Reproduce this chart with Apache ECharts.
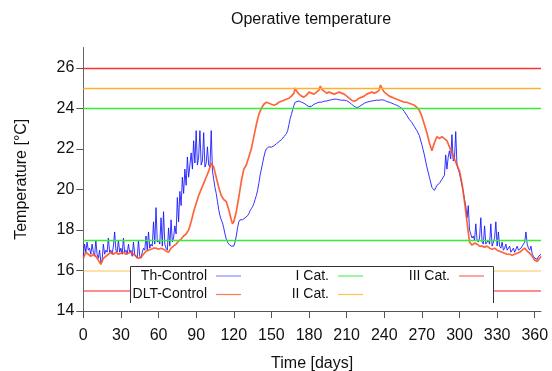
<!DOCTYPE html>
<html>
<head>
<meta charset="utf-8">
<script src="https://cdn.jsdelivr.net/npm/echarts@6/dist/echarts.min.js"></script>
<style>
html,body{margin:0;padding:0;background:#fff;overflow:hidden;}
#chart{width:552px;height:371px;}
</style>
</head>
<body>
<div id="chart"></div>
<script>
// ---- data ----
const titleText = 'Operative temperature';
const xName = 'Time [days]';
const yName = 'Temperature [°C]';
const xTicks = [0,30,60,90,120,150,180,210,240,270,300,330,360];
const yTicks = [14,16,18,20,22,24,26];

// [day, temperature] Th-Control
const thControl = [
[0,16.7],[1,17.3],[2,16.9],[3,17.4],[4,17.0],[5,17.1],[6,16.8],[7,17.3],[8,16.9],[9,16.7],
[10,17.5],[11,16.8],[12,16.6],[13,17.0],[14,16.4],[15,16.5],[16,17.3],[17,16.8],[18,17.0],[19,16.9],
[20,17.6],[21,16.9],[22,17.0],[23,16.8],[24,17.2],[25,17.9],[26,17.0],[27,16.9],[28,17.5],[29,16.9],
[30,17.1],[31,16.8],[32,17.6],[33,16.9],[34,17.0],[35,16.8],[36,17.3],[37,16.9],[38,17.0],[39,16.7],
[40,17.4],[41,16.8],[42,16.7],[43,16.6],[44,17.5],[45,16.7],[46,16.6],[47,16.9],[48,17.1],[49,17.0],
[50,17.7],[51,17.0],[52,17.9],[53,17.1],[54,17.3],[55,17.2],[56,18.4],[57,17.3],[58,19.1],[59,17.4],
[60,17.5],[61,17.3],[62,18.6],[63,17.2],[64,18.9],[65,17.3],[66,17.1],[67,17.0],[68,18.1],[69,17.2],
[70,18.5],[71,17.4],[72,17.6],[73,18.2],[74,17.8],[75,19.6],[76,18.4],[77,19.9],[78,19.2],[79,20.6],
[80,19.8],[81,21.0],[82,20.2],[83,21.6],[84,20.6],[85,21.2],[86,21.8],[87,21.0],[88,22.4],[89,21.3],
[90,22.9],[91,21.2],[92,21.6],[93,22.9],[94,21.2],[95,21.4],[96,22.8],[97,21.1],[98,21.3],[99,22.1],
[100,21.2],[101,21.1],[102,22.9],[103,20.9],[104,20.5],[105,20.1],[106,19.8],[107,19.4],[108,19.0],[109,18.7],
[110,18.5],[111,18.35],[112,18.1],[113,17.8],[114,17.55],[115,17.4],[116,17.3],[117,17.25],[118,17.2],[119,17.15],
[120,17.2],[121,17.4],[122,17.7],[123,18.1],[124,18.4],[125,18.5],[126,18.45],[127,18.5],[128,18.55],[129,18.6],
[130,18.65],[131,18.7],[132,18.8],[133,18.95],[134,19.05],[135,19.15],[136,19.3],[137,19.5],[138,19.7],[139,19.95],
[140,20.3],[141,20.7],[142,21.0],[143,21.3],[144,21.6],[145,21.85],[146,22.0],[147,22.05],[148,22.1],[150,22.08],
[152,22.15],[154,22.25],[156,22.35],[158,22.45],[160,22.6],[162,22.75],[163,22.9],[164,23.2],[165,23.5],[166,23.7],
[167,23.95],[168,24.15],[169,24.3],[170,24.35],[172,24.36],[174,24.3],[176,24.25],[178,24.16],[180,24.08],[182,24.1],
[184,24.2],[186,24.25],[188,24.3],[190,24.3],[192,24.35],[194,24.36],[196,24.4],[198,24.42],[200,24.45],[202,24.45],
[204,24.42],[206,24.4],[208,24.4],[210,24.38],[212,24.3],[214,24.2],[216,24.1],[218,24.03],[220,24.08],[222,24.16],
[224,24.25],[226,24.3],[228,24.33],[230,24.36],[232,24.38],[234,24.4],[236,24.4],[238,24.42],[240,24.4],[242,24.33],
[244,24.3],[246,24.25],[248,24.2],[250,24.15],[252,24.08],[254,24.0],[256,23.84],[258,23.65],[260,23.45],[262,23.3],
[264,23.1],[266,22.9],[268,22.65],[270,22.2],[272,21.7],[274,21.1],[276,20.6],[278,20.1],[280,19.95],[282,20.2],
[284,20.3],[286,20.5],[288,20.7],[289,21.7],[290,21.0],[291,21.6],[292,21.9],[293,21.5],[294,22.7],[295,21.4],
[296,21.5],[297,22.85],[298,21.2],[299,21.0],[300,20.8],[301,20.5],[302,20.2],[303,19.9],[304,19.5],[305,19.2],
[306,18.6],[307,19.2],[308,18.0],[309,17.8],[310,17.6],[311,17.7],[312,17.5],[313,18.3],[314,17.5],[315,17.4],
[316,17.6],[317,18.6],[318,17.4],[319,17.3],[320,18.2],[321,17.3],[322,17.3],[323,17.5],[324,17.3],[325,18.3],
[326,17.2],[327,17.2],[328,17.6],[329,18.4],[330,17.2],[331,17.9],[332,17.2],[333,17.1],[334,17.4],[335,17.0],
[336,17.1],[337,17.3],[338,17.0],[339,16.95],[340,17.2],[341,16.9],[342,16.95],[343,17.1],[344,16.9],[345,16.9],
[346,17.2],[347,17.0],[348,17.0],[349,17.1],[350,17.2],[351,17.3],[352,17.4],[353,17.9],[354,17.3],[355,17.1],
[356,17.0],[357,17.2],[358,16.8],[359,16.7],[360,16.6],[361,16.65],[362,16.55],[363,16.7],[364,16.75],[365,16.8]
];

// [day, temperature] DLT-Control
const dltControl = [
[0,16.6],[2,16.9],[4,16.8],[6,16.7],[8,16.8],[10,16.7],[12,16.5],[14,16.3],[16,16.6],[18,16.7],
[20,16.8],[22,16.9],[24,16.8],[26,16.9],[28,16.8],[30,16.85],[32,16.9],[34,16.8],[36,16.85],[38,16.9],
[40,16.8],[42,16.7],[44,16.6],[46,16.65],[48,16.8],[50,16.95],[52,17.0],[54,17.05],[56,17.1],[58,17.1],
[60,17.05],[62,17.1],[64,17.05],[66,16.95],[68,16.9],[70,17.1],[72,17.2],[74,17.3],[76,17.45],[78,17.55],
[80,17.7],[82,17.8],[84,18.0],[86,18.4],[88,18.9],[90,19.3],[92,19.7],[94,20.0],[96,20.3],[98,20.6],
[100,20.9],[102,21.3],[104,21.1],[106,20.6],[108,20.1],[110,19.7],[112,19.5],[114,19.4],[116,19.0],[118,18.5],
[119,18.3],[120,18.4],[122,18.9],[124,19.6],[126,20.4],[128,21.0],[130,21.2],[132,21.6],[134,22.0],[136,22.6],
[138,23.2],[140,23.7],[142,24.0],[144,24.2],[146,24.3],[148,24.25],[150,24.2],[152,24.15],[154,24.2],[156,24.3],
[158,24.35],[160,24.4],[162,24.45],[164,24.5],[166,24.6],[168,24.75],[169,25.0],[170,24.85],[172,24.7],[174,24.6],
[176,24.55],[178,24.65],[180,24.8],[182,24.75],[184,24.7],[186,24.8],[188,24.9],[189,25.1],[190,24.95],[192,24.85],
[194,24.75],[196,24.8],[198,24.75],[200,24.7],[202,24.75],[204,24.8],[206,24.75],[208,24.7],[210,24.6],[212,24.5],
[214,24.4],[216,24.35],[218,24.4],[220,24.5],[222,24.55],[224,24.6],[226,24.7],[228,24.75],[230,24.8],[232,24.75],
[234,24.8],[236,24.9],[237,25.15],[238,25.0],[240,24.8],[242,24.7],[244,24.6],[246,24.55],[248,24.5],[250,24.45],
[252,24.4],[254,24.35],[256,24.3],[258,24.3],[260,24.25],[262,24.2],[264,24.15],[266,24.05],[268,23.9],[270,23.6],
[272,23.2],[274,22.8],[276,22.3],[278,21.9],[280,22.3],[282,22.6],[284,22.5],[286,22.6],[288,22.5],[290,22.4],
[292,22.1],[294,21.8],[296,21.5],[298,21.2],[300,20.9],[302,20.3],[304,19.4],[306,18.4],[308,17.4],[310,17.25],
[312,17.35],[314,17.3],[316,17.2],[318,17.2],[320,17.15],[322,17.2],[324,17.1],[326,17.05],[328,17.1],[330,17.0],
[332,16.95],[334,16.9],[336,16.85],[338,16.8],[340,16.8],[342,16.75],[344,16.8],[346,16.85],[348,16.9],[350,17.0],
[352,17.1],[354,16.95],[356,16.85],[358,16.7],[360,16.5],[362,16.45],[364,16.6],[365,16.7]
];

// comfort category limits (lower, upper)
const cat1 = [17.5, 24];
const cat2 = [16, 25];
const cat3 = [15, 26];

const FONT = '"Liberation Sans", Arial, sans-serif';
const chart = echarts.init(document.getElementById('chart'), null, {renderer: 'canvas'});

function legendFor(name, color, right, top) {
  return {
    show: true, data: [{name: name, itemStyle: {color: color}}],
    right: right, top: top, padding: 0, align: 'right',
    icon: 'rect', itemWidth: 25, itemHeight: 1.2, selectedMode: false,
    textStyle: {fontFamily: FONT, fontSize: 14, color: '#111', lineHeight: 14, padding: [0, 4, 0, 0]},
    z: 20
  };
}

const option = {
  animation: false,
  backgroundColor: '#fff',
  textStyle: {fontFamily: FONT},
  grid: {left: 83.3, right: 11, top: 47.5, bottom: 60, containLabel: false, outerBoundsMode: 'none'},
  xAxis: {
    type: 'value', min: 0, max: 365, interval: 30,
    name: xName, nameLocation: 'middle', nameGap: 45,
    nameTextStyle: {fontFamily: FONT, fontSize: 16, color: '#111'},
    axisLine: {show: true, onZero: false, lineStyle: {color: '#555', width: 1}},
    axisTick: {show: true, length: 7, customValues: xTicks, lineStyle: {color: '#555'}},
    axisLabel: {customValues: xTicks, fontSize: 16, color: '#111', margin: 17, fontFamily: FONT},
    splitLine: {show: false}
  },
  yAxis: {
    type: 'value', min: 14, max: 27, interval: 2,
    name: yName, nameLocation: 'middle', nameGap: 54, nameRotate: 90,
    nameTextStyle: {fontFamily: FONT, fontSize: 16, color: '#111'},
    axisLine: {show: true, onZero: false, lineStyle: {color: '#666', width: 1}},
    axisTick: {show: true, length: 7, customValues: yTicks, lineStyle: {color: '#555'}},
    axisLabel: {customValues: yTicks, fontSize: 16, color: '#111', margin: 9, fontFamily: FONT},
    splitLine: {show: false}
  },
  legend: [
    legendFor('Th-Control', '#8c8cff', 311, 269),
    legendFor('DLT-Control', '#ff7a50', 311, 287.5),
    legendFor('I Cat.', '#5cf05c', 189, 269),
    legendFor('II Cat.', '#ffc24a', 189, 287.5),
    legendFor('III Cat.', '#ff6a6a', 68, 269)
  ],
  graphic: [
    {type: 'text', x: 311, y: 19.5, z: 30,
     style: {text: titleText, font: '16px ' + FONT, fill: '#111', textAlign: 'center', textVerticalAlign: 'middle'}},
    {type: 'rect', z: 15, shape: {x: 130, y: 266, width: 364, height: 37},
     style: {fill: '#fff', stroke: null}},
    {type: 'polyline', z: 16, shape: {points: [[130.5, 303], [130.5, 266.5], [493.5, 266.5], [493.5, 303]]},
     style: {stroke: '#333', lineWidth: 1, fill: null}}
  ],
  series: [
    {name: 'I Cat.', type: 'line', data: [], color: '#33ee33', symbol: 'none',
     markLine: {silent: true, symbol: 'none', animation: false, label: {show: false},
       lineStyle: {color: '#33ee33', width: 1.3, type: 'solid'},
       data: [{yAxis: cat1[0]}, {yAxis: cat1[1]}]}},
    {name: 'II Cat.', type: 'line', data: [], color: '#ffb12e', symbol: 'none',
     markLine: {silent: true, symbol: 'none', animation: false, label: {show: false},
       lineStyle: {color: '#ffb12e', width: 1.3, type: 'solid'},
       data: [{yAxis: cat2[0], lineStyle: {width: 2, opacity: 0.4}}, {yAxis: cat2[1]}]}},
    {name: 'III Cat.', type: 'line', data: [], color: '#ff3030', symbol: 'none',
     markLine: {silent: true, symbol: 'none', animation: false, label: {show: false},
       lineStyle: {color: '#ff3030', width: 1.3, type: 'solid'},
       data: [{yAxis: cat3[0], lineStyle: {width: 2, opacity: 0.55}}, {yAxis: cat3[1]}]}},
    {name: 'Th-Control', type: 'line', data: thControl, color: '#1010ff', symbol: 'none', z: 3,
     lineStyle: {color: '#1010ff', width: 1, opacity: 0.85}},
    {name: 'DLT-Control', type: 'line', data: dltControl, color: '#ff4a1a', symbol: 'none', z: 4,
     lineStyle: {color: '#ff4a1a', width: 1.7, opacity: 0.85}}
  ]
};
chart.setOption(option);
</script>
</body>
</html>
